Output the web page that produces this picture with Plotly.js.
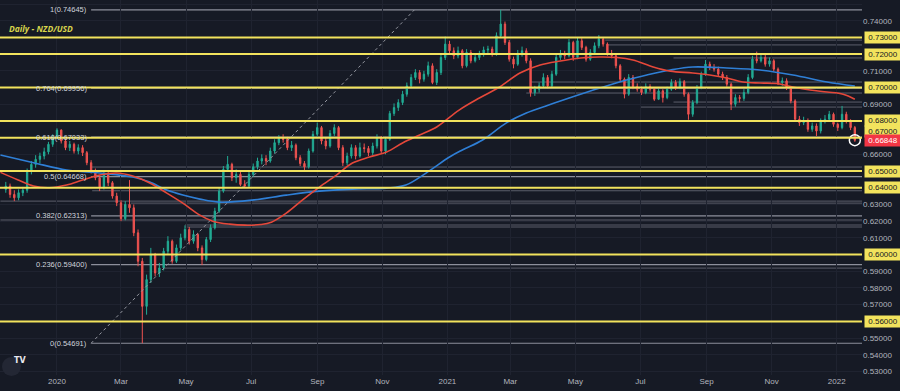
<!DOCTYPE html>
<html><head><meta charset="utf-8">
<script src="https://cdn.plot.ly/plotly-3.0.1.min.js"></script>
<style>html,body{margin:0;padding:0;background:#161a25;}#chart{width:900px;height:391px;}</style>
</head><body><div id="chart"></div>
<script>
// ---- data (NZD/USD, ~4-day candles) ----
const candleStart = '2019-11-14';
const candleStepDays = 4;
const opens = [0.639,0.641,0.636,0.634,0.637,0.6385,0.650,0.654,0.657,0.659,
0.6615,0.666,0.670,0.6745,0.668,0.664,0.666,0.662,0.664,0.661,
0.655,0.650,0.646,0.6405,0.648,0.643,0.635,0.631,0.6215,0.630,
0.628,0.613,0.596,0.569,0.585,0.600,0.589,0.592,0.602,0.608,
0.596,0.604,0.610,0.615,0.608,0.612,0.604,0.597,0.609,0.616,
0.626,0.638,0.651,0.654,0.646,0.648,0.642,0.641,0.648,0.6525,
0.656,0.6575,0.656,0.662,0.667,0.6695,0.669,0.664,0.6655,0.658,
0.6545,0.6525,0.662,0.672,0.676,0.668,0.665,0.6725,0.676,0.664,
0.655,0.659,0.664,0.659,0.664,0.6635,0.661,0.665,0.670,0.662,
0.669,0.6845,0.688,0.691,0.696,0.701,0.706,0.709,0.705,0.708,
0.713,0.703,0.709,0.718,0.726,0.722,0.719,0.722,0.713,0.721,
0.716,0.718,0.720,0.7225,0.723,0.720,0.731,0.738,0.727,0.717,
0.714,0.7205,0.722,0.716,0.697,0.699,0.701,0.706,0.701,0.708,
0.718,0.720,0.719,0.727,0.718,0.728,0.724,0.717,0.721,0.725,
0.729,0.726,0.7205,0.719,0.713,0.705,0.696,0.706,0.7005,0.699,
0.697,0.7005,0.699,0.693,0.698,0.694,0.699,0.703,0.700,0.7035,
0.696,0.684,0.691,0.700,0.708,0.714,0.712,0.711,0.708,0.706,
0.702,0.690,0.694,0.6935,0.697,0.706,0.717,0.716,0.718,0.714,
0.716,0.711,0.703,0.704,0.700,0.692,0.681,0.679,0.680,0.675,
0.677,0.674,0.680,0.681,0.684,0.678,0.676,0.684,0.680,0.676];
const closes = [0.641,0.636,0.634,0.637,0.6385,0.650,0.654,0.657,0.659,0.6615,
0.666,0.670,0.6745,0.668,0.664,0.666,0.662,0.664,0.661,0.655,
0.650,0.646,0.6405,0.648,0.643,0.635,0.631,0.6215,0.630,0.628,
0.613,0.596,0.569,0.585,0.600,0.589,0.592,0.602,0.608,0.596,
0.604,0.610,0.615,0.608,0.612,0.604,0.597,0.609,0.616,0.626,
0.638,0.651,0.654,0.646,0.648,0.642,0.641,0.648,0.6525,0.656,
0.6575,0.656,0.662,0.667,0.6695,0.669,0.664,0.6655,0.658,0.6545,
0.6525,0.662,0.672,0.676,0.668,0.665,0.6725,0.676,0.664,0.655,
0.659,0.664,0.659,0.664,0.6635,0.661,0.665,0.670,0.662,0.669,
0.6845,0.688,0.691,0.696,0.701,0.706,0.709,0.705,0.708,0.713,
0.703,0.709,0.718,0.726,0.722,0.719,0.722,0.713,0.721,0.716,
0.718,0.720,0.7225,0.723,0.720,0.731,0.738,0.727,0.717,0.714,
0.7205,0.722,0.716,0.697,0.699,0.701,0.706,0.701,0.708,0.718,
0.720,0.719,0.727,0.718,0.728,0.724,0.717,0.721,0.725,0.729,
0.726,0.7205,0.719,0.713,0.705,0.696,0.706,0.7005,0.699,0.697,
0.7005,0.699,0.693,0.698,0.694,0.699,0.703,0.700,0.7035,0.696,
0.684,0.691,0.700,0.708,0.714,0.712,0.711,0.708,0.706,0.702,
0.690,0.694,0.6935,0.697,0.706,0.717,0.716,0.718,0.714,0.716,
0.711,0.703,0.704,0.700,0.692,0.681,0.679,0.680,0.675,0.677,
0.674,0.680,0.681,0.684,0.678,0.676,0.684,0.680,0.676,0.66848];
const highs = [0.6435,0.6425,0.6385,0.6390,0.6405,0.6515,0.6560,0.6595,0.6610,0.6640,
0.6675,0.6720,0.6756,0.6750,0.6695,0.6680,0.6670,0.6660,0.6655,0.6620,
0.6565,0.6515,0.6475,0.6495,0.6500,0.6440,0.6370,0.6325,0.6320,0.6446,
0.6300,0.6150,0.5980,0.5880,0.6040,0.6010,0.5950,0.6040,0.6110,0.6090,
0.6060,0.6125,0.6175,0.6165,0.6145,0.6130,0.6055,0.6105,0.6180,0.6280,
0.6400,0.6530,0.6590,0.6550,0.6510,0.6495,0.6445,0.6495,0.6545,0.6580,
0.6600,0.6595,0.6640,0.6690,0.6715,0.6720,0.6705,0.6680,0.6665,0.6595,
0.6560,0.6635,0.6740,0.6790,0.6770,0.6700,0.6745,0.6780,0.6770,0.6655,
0.6610,0.6660,0.6655,0.6670,0.6665,0.6650,0.6670,0.6720,0.6710,0.6705,
0.6860,0.6905,0.6930,0.6980,0.7030,0.7080,0.7110,0.7105,0.7100,0.7155,
0.7145,0.7110,0.7200,0.7305,0.7280,0.7240,0.7245,0.7230,0.7230,0.7225,
0.7205,0.7220,0.7245,0.7250,0.7245,0.7330,0.7465,0.7395,0.7285,0.7185,
0.7225,0.7245,0.7235,0.7175,0.7010,0.7030,0.7085,0.7075,0.7100,0.7200,
0.7225,0.7220,0.7290,0.7280,0.7300,0.7295,0.7250,0.7230,0.7270,0.7314,
0.7300,0.7270,0.7225,0.7200,0.7140,0.7060,0.7080,0.7075,0.7025,0.7005,
0.7025,0.7020,0.7000,0.6995,0.6990,0.7005,0.7050,0.7045,0.7055,0.7045,
0.6970,0.6925,0.7015,0.7095,0.7165,0.7155,0.7140,0.7125,0.7095,0.7075,
0.7030,0.6960,0.6955,0.6990,0.7080,0.7190,0.7215,0.7205,0.7195,0.7180,
0.7170,0.7120,0.7060,0.7055,0.7010,0.6930,0.6830,0.6825,0.6815,0.6790,
0.6785,0.6815,0.6835,0.6860,0.6850,0.6790,0.6890,0.6855,0.6810,0.6770];
const lows = [0.6370,0.6340,0.6320,0.6325,0.6350,0.6370,0.6480,0.6520,0.6545,0.6570,
0.6600,0.6645,0.6690,0.6665,0.6625,0.6620,0.6605,0.6600,0.6590,0.6535,
0.6485,0.6445,0.6380,0.6390,0.6410,0.6335,0.6290,0.6200,0.6205,0.6250,
0.6110,0.5930,0.5469,0.5640,0.5830,0.5870,0.5866,0.5905,0.6000,0.5945,
0.5950,0.6025,0.6085,0.6060,0.6065,0.6020,0.5937,0.5960,0.6075,0.6150,
0.6250,0.6370,0.6495,0.6440,0.6430,0.6410,0.6398,0.6400,0.6465,0.6510,
0.6540,0.6535,0.6550,0.6605,0.6655,0.6670,0.6625,0.6620,0.6565,0.6530,
0.6500,0.6515,0.6610,0.6705,0.6660,0.6630,0.6640,0.6710,0.6625,0.6530,
0.6535,0.6575,0.6570,0.6580,0.6610,0.6590,0.6595,0.6635,0.6605,0.6600,
0.6680,0.6830,0.6860,0.6895,0.6945,0.6995,0.7045,0.7025,0.7035,0.7065,
0.7020,0.7015,0.7075,0.7165,0.7195,0.7170,0.7175,0.7115,0.7120,0.7145,
0.7150,0.7165,0.7185,0.7205,0.7185,0.7190,0.7300,0.7255,0.7155,0.7115,
0.7130,0.7185,0.7145,0.6945,0.6950,0.6970,0.6995,0.6995,0.7000,0.7070,
0.7165,0.7170,0.7180,0.7160,0.7170,0.7225,0.7155,0.7160,0.7195,0.7235,
0.7245,0.7190,0.7175,0.7115,0.7035,0.6935,0.6950,0.6990,0.6975,0.6955,
0.6960,0.6975,0.6920,0.6925,0.6910,0.6930,0.6980,0.6985,0.6990,0.6945,
0.6807,0.6825,0.6900,0.6990,0.7070,0.7105,0.7095,0.7065,0.7045,0.7005,
0.6865,0.6885,0.6910,0.6920,0.6960,0.7050,0.7145,0.7150,0.7125,0.7125,
0.7095,0.7015,0.7010,0.6985,0.6905,0.6795,0.6770,0.6775,0.6735,0.6735,
0.6710,0.6725,0.6785,0.6795,0.6765,0.6740,0.6750,0.6785,0.6745,0.6675];

// moving averages
const redMaDates = ['2019-11-09','2019-11-25','2019-12-10','2019-12-25','2020-01-10','2020-01-25','2020-02-10','2020-02-26','2020-03-12','2020-03-28','2020-04-13','2020-04-28','2020-05-14','2020-05-26','2020-06-11','2020-06-25','2020-07-10','2020-07-20','2020-08-03','2020-08-18','2020-09-03','2020-09-19','2020-10-04','2020-10-20','2020-11-05','2020-11-20','2020-12-06','2020-12-22','2021-01-12','2021-01-31','2021-02-19','2021-03-10','2021-03-29','2021-04-17','2021-05-06','2021-05-24','2021-06-09','2021-06-24','2021-07-13','2021-07-29','2021-08-19','2021-09-04','2021-09-20','2021-10-05','2021-10-21','2021-11-06','2021-11-21','2021-12-07','2021-12-23','2022-01-07','2022-01-18'];
const redMaValues = [0.6492,0.6448,0.6410,0.6400,0.6416,0.6446,0.6476,0.6488,0.6470,0.6428,0.6368,0.6308,0.6236,0.6200,0.6182,0.6176,0.6180,0.6194,0.6248,0.6326,0.6404,0.6476,0.6548,0.6584,0.6614,0.6668,0.6716,0.6764,0.6865,0.6937,0.7003,0.7087,0.7135,0.7159,0.7177,0.7183,0.7180,0.7165,0.7123,0.7098,0.7087,0.7075,0.7057,0.7033,0.7027,0.7024,0.7003,0.6985,0.6973,0.6960,0.6930];
const blueMaDates = ['2019-11-09','2019-12-10','2020-01-10','2020-02-10','2020-03-12','2020-03-28','2020-04-13','2020-04-28','2020-05-14','2020-06-01','2020-07-02','2020-08-03','2020-09-03','2020-10-04','2020-11-05','2020-11-23','2020-12-12','2021-01-03','2021-01-15','2021-02-03','2021-02-25','2021-03-16','2021-04-06','2021-04-28','2021-05-24','2021-06-18','2021-07-07','2021-07-29','2021-08-19','2021-09-20','2021-10-21','2021-11-21','2021-12-23','2022-01-18'];
const blueMaValues = [0.6596,0.6550,0.6506,0.6488,0.6464,0.6434,0.6386,0.6356,0.6332,0.6314,0.6326,0.6356,0.6380,0.6392,0.6398,0.6416,0.6488,0.6584,0.6626,0.6686,0.6787,0.6847,0.6895,0.6943,0.6997,0.7045,0.7075,0.7105,0.7123,0.7117,0.7105,0.7075,0.7033,0.7009];

// horizontal support / resistance levels (yellow)
const keyLevels = [0.73,0.72,0.70,0.68,0.67,0.65,0.64,0.60,0.56];
// fibonacci retracement
const fibRatios = ['1','0.764','0.618','0.5','0.382','0.236','0'];
const fibValues = [0.74645,0.69956,0.67033,0.64668,0.62313,0.59400,0.54691];
const fibStart = '2020-02-02';
const fibTrendDates = ['2020-02-02','2020-12-01'];
const fibTrendValues = [0.54691,0.74645];
// thin grey drawn levels
const greyLevels = [0.6524,0.6382,0.6320,0.6308,0.6207,0.6177,0.6165,0.5919,0.7284,0.7255,0.7177,0.7033,0.6967,0.6913,0.6883];
const greyStarts = ['2020-02-01','2020-02-03','2019-11-09','2020-03-10','2019-11-09','2020-04-30','2020-04-30','2020-04-10','2021-05-29','2021-05-31','2021-08-01','2021-03-20','2021-03-16','2021-08-01','2021-07-01'];
// axis ticks
const yTickVals = [0.75,0.74,0.71,0.69,0.66,0.63,0.62,0.61,0.59,0.58,0.57,0.55,0.54,0.53];
const xTickVals = ['2020-01-01','2020-03-01','2020-05-01','2020-07-01','2020-09-01','2020-11-01','2021-01-01','2021-03-01','2021-05-01','2021-07-01','2021-09-01','2021-11-01','2022-01-01'];
const xTickText = ['2020','Mar','May','Jul','Sep','Nov','2021','Mar','May','Jul','Sep','Nov','2022'];
const lastPrice = 0.66848;

// ---- build ----
const t0 = Date.parse(candleStart + 'T00:00:00Z');
const candleDates = closes.map((_, i) => new Date(t0 + i * candleStepDays * 86400000).toISOString().slice(0, 10));
const xEnd = '2022-01-24 17:00';
const xStartR = '2019-11-08 14:00';

const YEL = '#f2e35d', BG = '#161a25', TXT = '#b2b5be';
const shapes = [];
keyLevels.forEach(v => shapes.push({type:'line', xref:'paper', x0:0, x1:1, yref:'y', y0:v, y1:v, line:{color:YEL, width:2}, layer:'above'}));
greyLevels.forEach((v, i) => shapes.push({type:'line', xref:'x', x0:greyStarts[i], x1:xEnd, yref:'y', y0:v, y1:v, line:{color:'rgba(150,152,165,0.55)', width:1}, layer:'below'}));
fibValues.forEach(v => shapes.push({type:'line', xref:'x', x0:fibStart, x1:xEnd, yref:'y', y0:v, y1:v, line:{color:'#8d8f9b', width:1.2}, layer:'below'}));
shapes.push({type:'circle', xref:'paper', yref:'paper', xsizemode:'pixel', ysizemode:'pixel', xanchor:0, yanchor:0, x0:2, x1:21, y0:-1, y1:18, fillcolor:'#232734', line:{width:0}});

const annotations = [];
fibValues.forEach((v, i) => annotations.push({x:fibStart, y:v, xref:'x', yref:'y', text:fibRatios[i] + '(' + v.toFixed(5) + ')', showarrow:false, xanchor:'right', xshift:-2, font:{family:'Liberation Sans, Arial', size:7.5, color:'#d1d4dc'}}));
keyLevels.forEach(v => annotations.push({x:1, xref:'paper', y:v, yref:'y', text:v.toFixed(5), showarrow:false, xanchor:'left', xshift:2, yshift:(v===0.67?6:0), bgcolor:YEL, borderpad:1, width:34, font:{family:'Liberation Sans, Arial', size:8, color:'#131722'}}));
annotations.push({x:1, xref:'paper', y:lastPrice, yref:'y', text:lastPrice.toFixed(5), showarrow:false, xanchor:'left', xshift:2, bgcolor:'#f23645', borderpad:1, width:34, font:{family:'Liberation Sans, Arial', size:8, color:'#ffffff'}});
annotations.push({x:0.008, xref:'paper', y:0.945, yref:'paper', xanchor:'left', text:'<b><i>Daily - NZD/USD</i></b>', showarrow:false, font:{family:'Open Sans, Arial', size:8.5, color:'#d8d44c'}});
annotations.push({x:11.5/862, xref:'paper', y:8.5/375, yref:'paper', text:'<b>TV</b>', showarrow:false, font:{family:'DejaVu Sans, Arial', size:8, color:'#e8e8ee'}});

const traces = [
  {type:'scatter', mode:'lines', x:fibTrendDates, y:fibTrendValues, line:{color:'#9598a1', width:1, dash:'dot'}, hoverinfo:'skip'},
  {type:'scatter', mode:'lines', x:blueMaDates, y:blueMaValues, line:{color:'#2f7fd6', width:1.6, shape:'spline'}, hoverinfo:'skip'},
  {type:'scatter', mode:'lines', x:redMaDates, y:redMaValues, line:{color:'#e5483a', width:1.6, shape:'spline'}, hoverinfo:'skip'},
  {type:'candlestick', x:candleDates, open:opens, high:highs, low:lows, close:closes, whiskerwidth:0,
   increasing:{line:{color:'#22ab94', width:1}, fillcolor:'#22ab94'},
   decreasing:{line:{color:'#ef5350', width:1}, fillcolor:'#ef5350'}, hoverinfo:'skip'},
  {type:'scatter', mode:'markers', x:[candleDates[candleDates.length-1]], y:[closes[closes.length-1]], marker:{symbol:'circle-open', size:11, color:'#ffffff', line:{width:1.5}}, hoverinfo:'skip'}
];

const layout = {
  width:900, height:391, margin:{l:0, r:38, t:0, b:16, pad:0},
  paper_bgcolor:BG, plot_bgcolor:BG, showlegend:false, boxgap:0.55,
  xaxis:{type:'date', range:[xStartR, xEnd], rangeslider:{visible:false}, tickvals:xTickVals, ticktext:xTickText,
    showgrid:true, gridcolor:'#1f2330', gridwidth:1, zeroline:false, showline:false, ticks:'', ticklen:0,
    tickfont:{family:'Liberation Sans, Arial', size:8, color:TXT}},
  yaxis:{side:'right', range:[0.5279, 0.7524], tickvals:yTickVals, tickformat:'.5f', showgrid:true, gridcolor:'#1f2330', gridwidth:1,
    zeroline:false, showline:false, ticks:'', ticklen:2, tickfont:{family:'Liberation Sans, Arial', size:8, color:TXT}},
  shapes:shapes, annotations:annotations, hovermode:false
};
Plotly.newPlot('chart', traces, layout, {staticPlot:true, displayModeBar:false});
</script></body></html>
